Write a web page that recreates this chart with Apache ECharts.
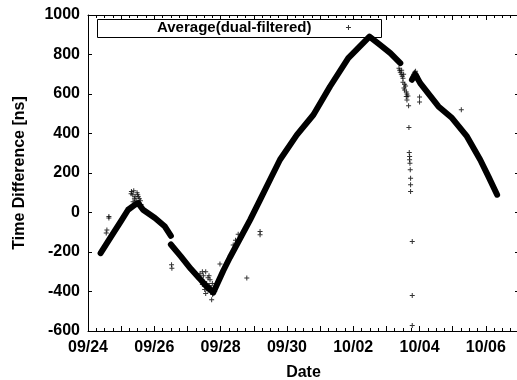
<!DOCTYPE html>
<html>
<head>
<meta charset="utf-8">
<script src="https://cdn.jsdelivr.net/npm/echarts@6/dist/echarts.min.js"></script>
<style>html,body{margin:0;padding:0;background:#fff}#c{width:517px;height:380px}</style>
</head>
<body>
<div id="c"></div>
<script>
// x values are days after 09/24 00:00
const tickLabels = ['09/24','09/25','09/26','09/27','09/28','09/29','09/30','10/01','10/02','10/03','10/04','10/05','10/06','10/07'];
const seriesName = 'Average(dual-filtered)';

// dense main track (null = gap in the record)
const trackDay = [0.38, 0.70, 1.00, 1.21, 1.41, 1.51, 1.66, 2.02, 2.32, 2.50, null,
  2.50, 2.80, 3.10, 3.37, 3.55, 3.78, 4.08, 4.28, 4.89, 5.19, 5.49, 5.79, 6.30, 6.80, 7.30, 7.85, 8.49,
  8.81, 9.12, 9.42, null,
  9.77, 9.87, 10.02, 10.57, 10.98, 11.43, 11.83, 12.08, 12.34];
const trackValue = [-206, -121, -42, 14, 39, 48, 14, -28, -71, -118, null,
  -162, -222, -285, -335, -370, -405, -295, -228, -37, 64, 166, 267, 393, 495, 638, 782, 891,
  849, 807, 756, null,
  672, 700, 655, 537, 478, 385, 267, 182, 90];

// scattered individual samples
const pointDay = [0.57, 0.55, 0.63, 0.63,
  1.31, 1.35, 1.42, 1.50, 1.55, 1.45, 1.60, 1.30, 1.38, 1.40, 1.48, 1.52, 1.58, 1.36, 1.44,
  2.52, 2.53,
  3.35, 3.45, 3.50, 3.60, 3.65, 3.70, 3.75, 3.55, 3.80, 3.73, 3.98, 4.79, 5.19, 5.19,
  3.38, 3.42, 3.48, 3.52, 3.58, 3.62, 3.66, 3.68, 3.72, 3.76, 3.82, 3.85, 3.45, 3.62, 3.55,
  4.38, 4.45, 4.53, 4.42, 4.50,
  9.40, 9.45, 9.50, 9.55, 9.55, 9.62, 9.60, 9.67, 9.68, 9.69, 9.70, 9.70, 9.71, 9.72, 9.73, 9.73, 9.73, 9.78, 9.78, 9.78,
  9.38, 9.42, 9.48, 9.50, 9.52, 9.58, 9.60, 9.62, 9.65, 9.46, 9.53,
  9.80, 9.85, 9.90, 9.78, 9.82, 9.88, 9.93, 9.95,
  10.00, 10.00, 11.26];
const pointValue = [-88, -104, -20, -28,
  106, 90, 80, 90, 70, 60, 40, 95, 110, 70, 100, 80, 60, 55, 45,
  -265, -282,
  -330, -300, -350, -380, -320, -400, -360, -410, -390, -442, -261, -332, -96, -113,
  -310, -340, -320, -390, -360, -395, -370, -340, -385, -415, -400, -380, -365, -330, -300,
  -164, -140, -110, -180, -150,
  720, 700, 680, 650, 620, 600, 587, 540, 430, 304, 284, 267, 250, 216, 174, 140, 106, -147, -420, -572,
  730, 710, 690, 660, 700, 640, 610, 570, 590, 720, 630,
  690, 710, 700, 680, 700, 715, 690, 670,
  585, 560, 520];

const plus = 'path://M2,0H3V2H5V3H3V5H2V3H0V2H2Z';
const FONT = 'Liberation Sans, Arial, sans-serif';
const W = 'bold';

const trackData = trackDay.map((d, i) => d === null ? '-' : [d, trackValue[i]]);
const pointData = pointDay.map((d, i) => [d, pointValue[i]]);

const axisLine = {show: true, onZero: false, lineStyle: {color: '#000', width: 1}};
const chart = echarts.init(document.getElementById('c'), null, {renderer: 'canvas'});
chart.setOption({
  animation: false,
  backgroundColor: '#fff',
  textStyle: {fontFamily: FONT, color: '#000'},
  grid: {left: 88, right: -2, top: 15, bottom: 49, containLabel: false, outerBoundsMode: 'none'},
  legend: {
    show: true, left: 157, top: 20, padding: 0, align: 'right',
    itemWidth: 64, itemHeight: 5,
    textStyle: {fontFamily: FONT, fontSize: 15, fontWeight: W, color: '#000'},
    data: [{name: seriesName, icon: plus}],
    selectedMode: false
  },
  graphic: [{type: 'rect', left: 97, top: 19, z: 1,
    shape: {width: 284, height: 18}, style: {fill: '#fff', stroke: '#000', lineWidth: 1}}],
  xAxis: [{
    type: 'value', min: 0, max: 13, interval: 1, position: 'bottom',
    axisLine: axisLine,
    axisTick: {show: true, inside: true, length: 5, lineStyle: {color: '#000'}},
    minorTick: {show: true, splitNumber: 4, length: 3, lineStyle: {color: '#000'}},
    splitLine: {show: false}, minorSplitLine: {show: false},
    axisLabel: {fontSize: 16, fontWeight: W, color: '#000', margin: 9, fontFamily: FONT,
      formatter: v => { const k = Math.round(v); return k % 2 === 0 ? tickLabels[k] : ''; }},
    name: 'Date', nameLocation: 'middle', nameGap: 34,
    nameTextStyle: {fontSize: 16, fontWeight: W, color: '#000', fontFamily: FONT}
  }, {
    type: 'value', min: 0, max: 13, interval: 1, position: 'top',
    axisLine: axisLine,
    axisTick: {show: true, inside: true, length: 5, lineStyle: {color: '#000'}},
    minorTick: {show: true, splitNumber: 4, length: 3, lineStyle: {color: '#000'}},
    splitLine: {show: false}, axisLabel: {show: false}
  }],
  yAxis: [{
    type: 'value', min: -600, max: 1000, interval: 200, position: 'left',
    axisLine: axisLine,
    axisTick: {show: true, inside: true, length: 4, lineStyle: {color: '#000'}},
    splitLine: {show: false},
    axisLabel: {fontSize: 16, fontWeight: W, color: '#000', margin: 8, fontFamily: FONT, formatter: v => String(v)},
    name: 'Time Difference [ns]', nameLocation: 'middle', nameGap: 60, nameRotate: 90,
    nameTextStyle: {fontSize: 16, fontWeight: W, color: '#000', fontFamily: FONT}
  }, {
    type: 'value', min: -600, max: 1000, interval: 200, position: 'right',
    axisLine: axisLine,
    axisTick: {show: true, inside: true, length: 4, lineStyle: {color: '#000'}},
    splitLine: {show: false}, axisLabel: {show: false}
  }],
  series: [{
    name: seriesName, type: 'scatter', xAxisIndex: 0, yAxisIndex: 0,
    symbol: plus, symbolSize: 5, itemStyle: {color: '#000'},
    data: pointData, z: 3
  }, {
    name: seriesName, type: 'line', xAxisIndex: 0, yAxisIndex: 0,
    showSymbol: false, symbol: 'none', connectNulls: false,
    lineStyle: {color: '#000', width: 6, cap: 'round', join: 'round'},
    itemStyle: {color: '#000'},
    data: trackData, z: 2
  }]
});
</script>
</body>
</html>
